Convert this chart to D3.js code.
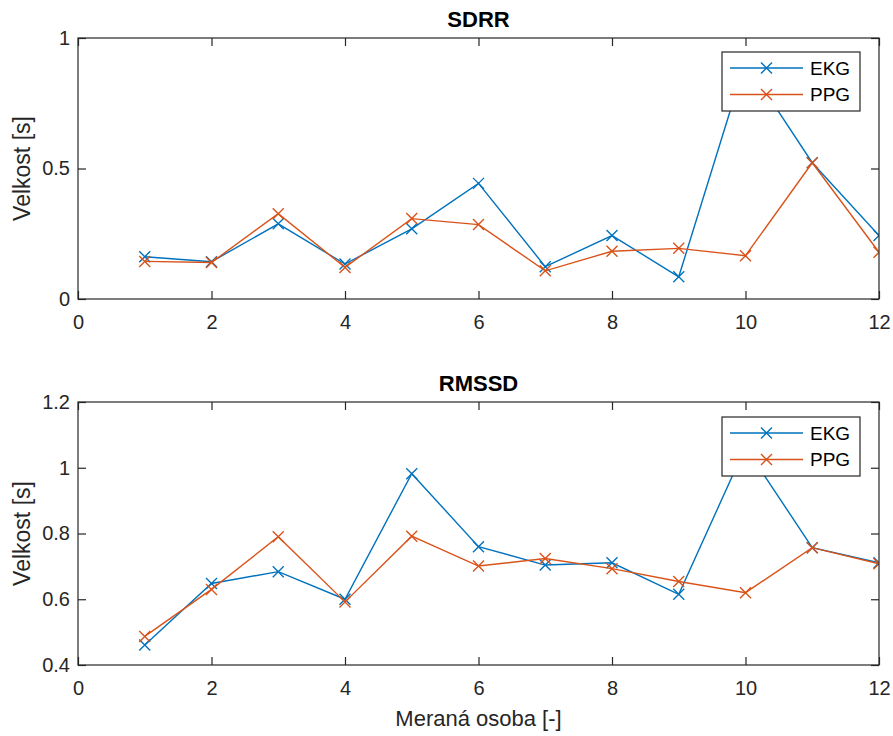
<!DOCTYPE html>
<html>
<head>
<meta charset="utf-8">
<script src="https://cdn.jsdelivr.net/npm/d3@7"></script>
<style>
  html, body { margin: 0; padding: 0; background: #fff; }
  svg { display: block; font-family: "Liberation Sans", Arial, Helvetica, sans-serif; }
</style>
</head>
<body>
<svg id="chart" width="893" height="736"></svg>
<script>
// ---- data ----
const persons = [1, 2, 3, 4, 5, 6, 7, 8, 9, 10, 11, 12];
const sdrrEKG = [0.162, 0.143, 0.288, 0.134, 0.269, 0.443, 0.124, 0.243, 0.085, 0.91, 0.522, 0.243];
const sdrrPPG = [0.144, 0.140, 0.327, 0.121, 0.308, 0.285, 0.108, 0.183, 0.194, 0.166, 0.522, 0.179];
const rmssdEKG = [0.461, 0.648, 0.684, 0.600, 0.982, 0.760, 0.704, 0.711, 0.615, 1.063, 0.757, 0.711];
const rmssdPPG = [0.487, 0.630, 0.790, 0.592, 0.792, 0.701, 0.724, 0.693, 0.654, 0.620, 0.757, 0.708];
const xTicks = [0, 2, 4, 6, 8, 10, 12];
const sdrrTicks = [0, 0.5, 1];
const rmssdTicks = [0.4, 0.6, 0.8, 1, 1.2];
const seriesNames = ["EKG", "PPG"];
const colors = ["#0072BD", "#D95319"];

const svg = d3.select("#chart");
const axisColor = "#262626";
const left = 78, right = 879;

function panel(cfg) {
  const x = d3.scaleLinear().domain([0, 12]).range([left, right]);
  const y = d3.scaleLinear().domain(cfg.yDomain).range([cfg.bottom, cfg.top]);
  const g = svg.append("g");
  const tl = 8;

  // data lines
  const line = d3.line().x((d, i) => x(persons[i])).y(d => y(d));
  const clipId = "clip" + cfg.id;
  svg.append("clipPath").attr("id", clipId).append("rect")
    .attr("x", left).attr("y", cfg.top).attr("width", right - left).attr("height", cfg.bottom - cfg.top);
  const dg = g.append("g").attr("clip-path", `url(#${clipId})`);
  cfg.series.forEach((s, k) => {
    dg.append("path").datum(s).attr("d", line)
      .attr("fill", "none").attr("stroke", colors[k]).attr("stroke-width", 1.4);
    const ms = 5.5;
    dg.selectAll(null).data(s).enter().append("path")
      .attr("d", (d, i) => {
        const cx = x(persons[i]), cy = y(d);
        return `M${cx - ms},${cy - ms}L${cx + ms},${cy + ms}M${cx - ms},${cy + ms}L${cx + ms},${cy - ms}`;
      })
      .attr("stroke", colors[k]).attr("stroke-width", 1.4).attr("fill", "none");
  });

  // box
  g.append("rect").attr("x", left).attr("y", cfg.top)
    .attr("width", right - left).attr("height", cfg.bottom - cfg.top)
    .attr("fill", "none").attr("stroke", axisColor).attr("stroke-width", 1.2);

  // axes with inward ticks
  const xb = d3.axisBottom(x).tickValues(xTicks).tickSize(-tl).tickPadding(16).tickFormat(d3.format("d"));
  const xt = d3.axisTop(x).tickValues(xTicks).tickSize(-tl).tickFormat("");
  const yl = d3.axisLeft(y).tickValues(cfg.yTicks).tickSize(-tl).tickPadding(8).tickFormat(d => String(d));
  const yr = d3.axisRight(y).tickValues(cfg.yTicks).tickSize(-tl).tickFormat("");
  [[xb, `translate(0,${cfg.bottom})`], [xt, `translate(0,${cfg.top})`],
   [yl, `translate(${left},0)`], [yr, `translate(${right},0)`]].forEach(([ax, tr]) => {
    const a = g.append("g").attr("transform", tr).call(ax);
    a.select(".domain").remove();
    a.selectAll("line").attr("stroke", axisColor).attr("stroke-width", 1.2);
    a.selectAll("text").attr("fill", axisColor).attr("font-size", 20)
      .attr("font-family", "'Liberation Sans', Arial, sans-serif");
  });

  // title
  g.append("text").attr("x", (left + right) / 2).attr("y", cfg.top - 11)
    .attr("text-anchor", "middle").attr("font-size", 22).attr("font-weight", "bold")
    .attr("fill", "#000").text(cfg.title);

  // y label
  g.append("text")
    .attr("transform", `translate(30,${(cfg.top + cfg.bottom) / 2}) rotate(-90)`)
    .attr("text-anchor", "middle").attr("font-size", 23).attr("fill", axisColor)
    .text("Velkost [s]");

  // legend
  const lx = 722, lw = 138, lh = 59, ly = cfg.legendTop;
  const lg = g.append("g");
  lg.append("rect").attr("x", lx).attr("y", ly).attr("width", lw).attr("height", lh)
    .attr("fill", "#fff").attr("stroke", axisColor).attr("stroke-width", 1.2);
  seriesNames.forEach((nm, k) => {
    const ry = ly + 16 + k * 26.5;
    lg.append("line").attr("x1", lx + 8).attr("x2", lx + 81).attr("y1", ry).attr("y2", ry)
      .attr("stroke", colors[k]).attr("stroke-width", 1.4);
    const cx = lx + 44.5, ms = 5.5;
    lg.append("path").attr("d", `M${cx - ms},${ry - ms}L${cx + ms},${ry + ms}M${cx - ms},${ry + ms}L${cx + ms},${ry - ms}`)
      .attr("stroke", colors[k]).attr("stroke-width", 1.4);
    lg.append("text").attr("x", lx + 88).attr("y", ry).attr("dy", "0.35em")
      .attr("font-size", 19).attr("fill", "#000").text(nm);
  });
}

panel({ id: 1, top: 38, bottom: 299, yDomain: [0, 1], yTicks: sdrrTicks,
        series: [sdrrEKG, sdrrPPG], title: "SDRR", legendTop: 52 });
panel({ id: 2, top: 402, bottom: 665, yDomain: [0.4, 1.2], yTicks: rmssdTicks,
        series: [rmssdEKG, rmssdPPG], title: "RMSSD", legendTop: 417 });

svg.append("text").attr("x", (left + right) / 2).attr("y", 726)
  .attr("text-anchor", "middle").attr("font-size", 22).attr("fill", axisColor)
  .text("Meraná osoba [-]");
</script>
</body>
</html>
